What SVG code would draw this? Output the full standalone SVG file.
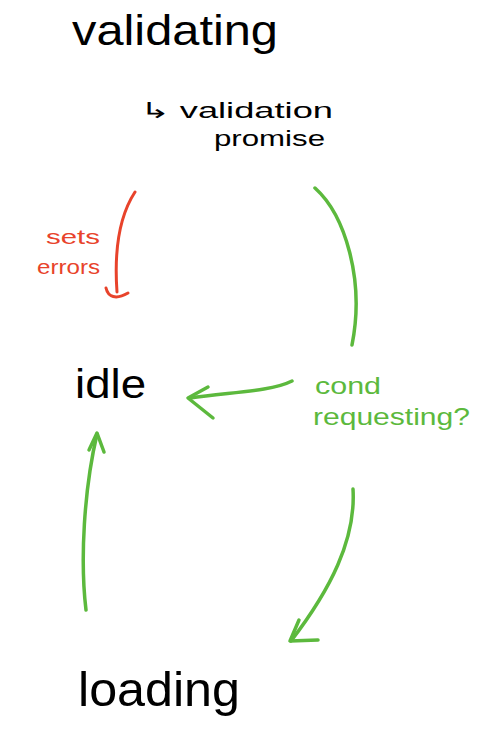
<svg xmlns="http://www.w3.org/2000/svg" width="478" height="748" viewBox="0 0 478 748">
<style>
.t{font-family:"Liberation Sans",Arial,sans-serif;}
.blk{fill:#000;}
.red{fill:#e8432b;}
.grn{fill:#5cb93d;}
.lr{fill:none;stroke:#e8432b;stroke-width:3;stroke-linecap:round;stroke-linejoin:round;}
.lg{fill:none;stroke:#5cb93d;stroke-width:3.5;stroke-linecap:round;stroke-linejoin:round;}
</style>
<rect width="478" height="748" fill="#fff"/>
<g id="validating">
<text class="t blk" x="72" y="45" font-size="42" textLength="206" lengthAdjust="spacingAndGlyphs">validating</text>
<text class="t blk" x="140" y="118" font-size="22" textLength="193" lengthAdjust="spacingAndGlyphs">↳ validation</text>
<text class="t blk" x="214" y="146" font-size="22" textLength="111" lengthAdjust="spacingAndGlyphs">promise</text>
</g>
<g id="idle">
<text class="t blk" x="75" y="398" font-size="40" textLength="71" lengthAdjust="spacingAndGlyphs">idle</text>
</g>
<g id="loading">
<text class="t blk" x="78" y="706" font-size="48" textLength="162" lengthAdjust="spacingAndGlyphs">loading</text>
</g>
<g id="labels">
<text class="t red" x="46" y="244" font-size="20" textLength="54" lengthAdjust="spacingAndGlyphs">sets</text>
<text class="t red" x="37" y="274" font-size="20" textLength="63" lengthAdjust="spacingAndGlyphs">errors</text>
<text class="t grn" x="315" y="394" font-size="24" textLength="66" lengthAdjust="spacingAndGlyphs">cond</text>
<text class="t grn" x="313" y="425" font-size="24" textLength="157" lengthAdjust="spacingAndGlyphs">requesting?</text>
</g>
<g id="connectors">
<path class="lr" d="M135,192 C120,215 114,250 117,292"/>
<path class="lr" d="M106,288 C108,297 116,300 128,293"/>
<path class="lg" d="M315,188 C345,215 365,280 352,345"/>
<path class="lg" d="M292,381 C270,392 230,392 190,398"/>
<path class="lg" d="M208,387 L188,398 L213,418"/>
<path class="lg" d="M353,489 C356,540 330,590 291,641"/>
<path class="lg" d="M299,620 L290,641 L318,640"/>
<path class="lg" d="M86,610 C80,560 84,490 97,434"/>
<path class="lg" d="M89,450 L97,433 L104,452"/>
</g>
</svg>
